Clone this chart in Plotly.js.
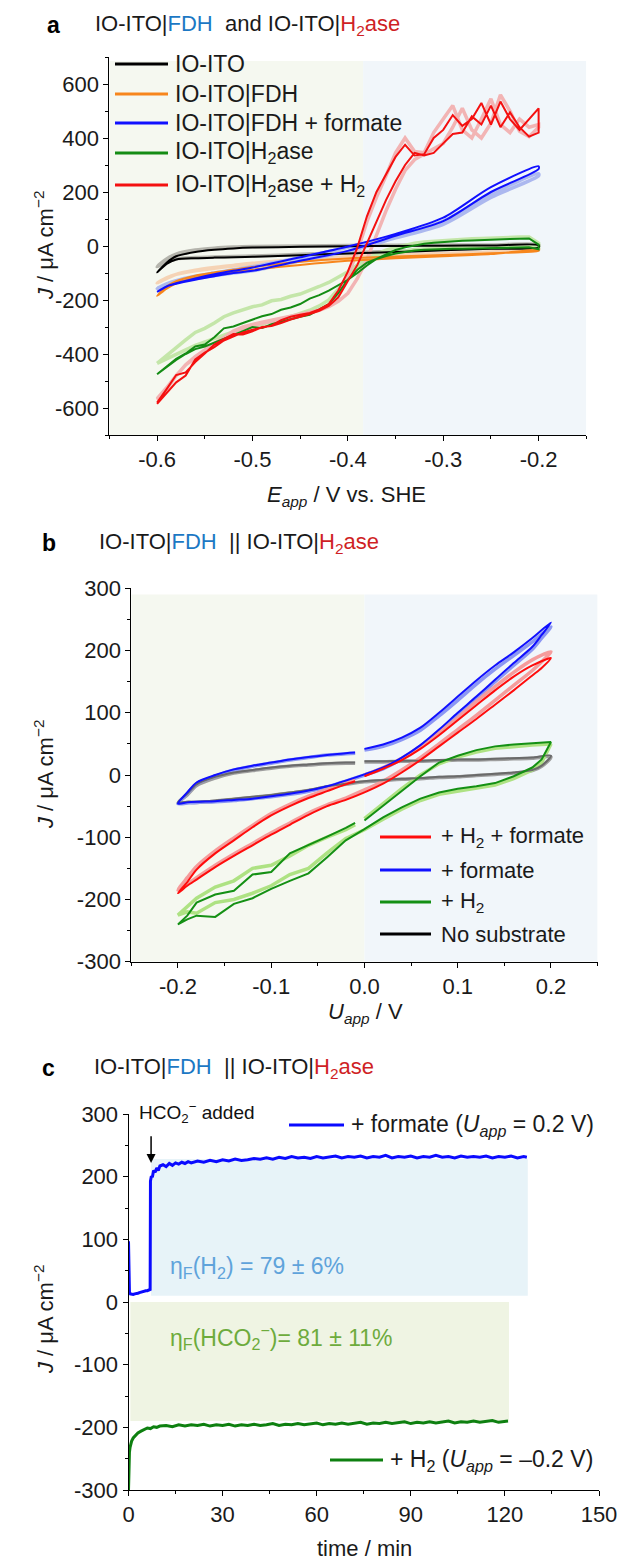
<!DOCTYPE html>
<html><head><meta charset="utf-8">
<script src="https://cdn.plot.ly/plotly-3.0.1.min.js"></script>
<style>html,body{margin:0;padding:0;background:#fff}#chart{width:619px;height:1560px}</style>
</head><body><div id="chart"></div>
<script>
// ---------- Panel a data ----------
const aVfine = [-0.6,-0.59,-0.58,-0.57,-0.56,-0.55,-0.54,-0.53,-0.52,-0.51,-0.5,-0.49,-0.48,-0.47,-0.46,-0.45,-0.44,-0.43,-0.42,-0.41,-0.4,-0.39,-0.38,-0.37,-0.36,-0.35,-0.34,-0.33,-0.32,-0.31,-0.3,-0.29,-0.28,-0.27,-0.26,-0.25,-0.24,-0.23,-0.22,-0.21,-0.2];
const aVcoarse = [-0.6,-0.59,-0.58,-0.56,-0.54,-0.52,-0.5,-0.45,-0.4,-0.35,-0.3,-0.25,-0.2];

const aItoDarkFwd = [-98,-62,-38,-22,-14,-9,-6,-3,-1,0,1,2,3];
const aItoDarkRev = [-5,-10,-16,-22,-28,-34,-40,-42,-43,-45,-50,-66,-98];
const aItoLightFwd = [-77,-48,-30,-15,-8,-4,-2,0,2,3,4,4,5];
const aItoLightRev = [-1,-7,-13,-19,-25,-31,-37,-39,-41,-43,-48,-60,-77];
const aFdhDarkFwd = [-185,-158,-138,-118,-105,-96,-88,-70,-55,-45,-38,-30,-15];
const aFdhDarkRev = [-18,-27,-33,-39,-46,-58,-78,-88,-98,-110,-130,-150,-185];
const aFdhLightFwd = [-137,-118,-105,-92,-82,-74,-68,-55,-44,-36,-30,-24,-10];
const aFdhLightRev = [-14,-22,-28,-33,-40,-50,-64,-72,-80,-90,-105,-120,-137];
const aFormDarkFwd = [-170,-150,-138,-120,-105,-92,-80,-42,-2,45,105,218,295];
const aFormDarkRev = [285,200,92,38,-18,-55,-92,-100,-112,-125,-140,-150,-170];
const aFormLightFwd = [-157,-140,-128,-112,-100,-88,-77,-42,-5,38,92,192,268];
const aFormLightRev = [260,180,80,30,-20,-55,-92,-100,-110,-120,-135,-145,-157];

const aH2aseDarkFwd = [-475,-445,-418,-398,-372,-365,-338,-305,-298,-285,-272,-260,-252,-236,-228,-215,-195,-182,-165,-145,-125,-100,-72,-48,-30,-15,-5,2,8,12,15,17,19,20,22,23,25,26,27,28,5];
const aH2aseDarkRev = [-12,-5,-6,-6,-7,-8,-8,-9,-10,-10,-11,-12,-14,-17,-22,-28,-37,-48,-62,-88,-125,-175,-215,-235,-255,-262,-272,-280,-290,-304,-300,-315,-330,-345,-358,-372,-382,-400,-422,-448,-475];
const aH2aseLightFwd = [-435,-405,-375,-348,-320,-305,-285,-262,-248,-236,-225,-218,-203,-198,-186,-178,-165,-150,-135,-115,-95,-70,-48,-30,-15,-5,3,10,15,18,21,23,25,27,28,30,31,32,33,33,10];
const aH2aseLightRev = [-6,-2,-3,-3,-4,-4,-5,-5,-6,-6,-7,-8,-10,-13,-18,-24,-32,-43,-57,-80,-112,-160,-200,-222,-238,-250,-262,-270,-278,-290,-292,-305,-318,-330,-345,-358,-368,-385,-400,-418,-435];
const aH2DarkFwd = [-585,-545,-505,-480,-420,-395,-375,-350,-335,-320,-310,-302,-295,-275,-262,-255,-248,-235,-215,-165,-95,-5,110,200,265,330,375,335,340,400,430,485,445,470,530,450,535,470,430,470,510];
const aH2DarkRev = [420,405,440,495,440,520,450,480,420,415,380,345,335,345,300,240,170,90,10,-70,-130,-190,-222,-240,-252,-262,-272,-285,-296,-300,-316,-328,-326,-345,-365,-398,-430,-468,-478,-530,-580];
const aH2LightFwd = [-570,-530,-480,-440,-415,-392,-370,-340,-315,-300,-290,-282,-275,-268,-262,-255,-248,-238,-220,-180,-110,-20,90,180,260,345,400,350,345,420,470,520,430,400,470,545,450,420,470,440,450];
const aH2LightRev = [440,405,425,500,560,455,400,430,510,440,380,360,340,320,280,210,130,40,-50,-120,-175,-205,-225,-238,-245,-255,-262,-270,-280,-285,-295,-305,-320,-340,-360,-385,-410,-440,-480,-525,-565];

const aLegendNames = ['IO-ITO','IO-ITO|FDH','IO-ITO|FDH + formate','IO-ITO|H<sub>2</sub>ase','IO-ITO|H<sub>2</sub>ase + H<sub>2</sub>'];
const aXTickVals = [-0.6,-0.5,-0.4,-0.3,-0.2];
const aXTickText = ['-0.6','-0.5','-0.4','-0.3','-0.2'];
const aYTickVals = [-600,-400,-200,0,200,400,600];
const aYTickText = ['-600','-400','-200','0','200','400','600'];

// ---------- Panel b data ----------
const bV = [0,0.02,0.04,0.06,0.08,0.1,0.12,0.14,0.16,0.18,0.2,0.19,0.18,0.16,0.14,0.12,0.1,0.08,0.06,0.04,0.02,0,-0.02,-0.04,-0.06,-0.08,-0.1,-0.12,-0.14,-0.16,-0.18,-0.19,-0.2,-0.19,-0.18,-0.16,-0.14,-0.12,-0.1,-0.08,-0.06,-0.04,-0.02,-0.01];
const bBlueDark = [42,49,60,76,100,126,152,176,197,220,245, 225,206,180,153,126,100,73,48,28,12,1,-9,-18,-25,-30,-34,-38,-40,-42,-43,-44,-46, -28,-12,0,9,15,20,25,29,32,35,36];
const bBlueLight = [40,46,57,72,95,120,146,170,192,214,238, 220,202,176,150,123,97,70,46,26,10,0,-10,-19,-26,-31,-35,-38,-41,-43,-44,-45,-46, -30,-14,-2,8,14,19,24,28,32,34,35];
const bGreyDark = [22,22,23,23,24,25,25,26,27,28,31, 15,8,4,2,0,-2,-3,-5,-6,-8,-10,-14,-18,-24,-28,-32,-35,-38,-41,-43,-43,-44, -30,-15,-3,4,8,12,15,17,19,20,20];
const bGreyLight = [21,21,22,22,23,24,24,25,26,27,29, 14,7,3,1,-1,-3,-4,-6,-7,-9,-11,-15,-19,-25,-29,-33,-36,-39,-42,-44,-44,-45, -32,-17,-5,3,7,11,14,16,18,19,19];
const bRedDark = [-2,10,24,42,64,88,112,136,158,176,188, 172,160,136,113,90,68,46,24,4,-14,-28,-40,-50,-64,-80,-96,-113,-130,-148,-168,-178,-190, -172,-152,-126,-105,-84,-65,-50,-37,-26,-15,-10];
const bRedLight = [0,12,27,46,68,92,118,142,165,185,198, 182,168,144,120,96,73,50,28,8,-10,-24,-37,-48,-61,-77,-93,-110,-127,-145,-165,-175,-185, -165,-147,-122,-101,-81,-62,-47,-34,-23,-13,-8];
const bGreenDark = [-73,-49,-25,-2,20,31,40,46,49,51,53, 25,12,-2,-13,-18,-22,-28,-38,-52,-68,-87,-105,-132,-158,-170,-183,-198,-207,-228,-226,-232,-240, -226,-205,-192,-186,-160,-156,-126,-113,-99,-85,-77];
const bGreenLight = [-70,-46,-22,0,18,29,37,43,46,48,50, 20,8,-6,-16,-21,-25,-31,-41,-55,-71,-88,-102,-125,-150,-160,-178,-190,-200,-205,-222,-220,-225, -212,-198,-180,-170,-150,-145,-130,-113,-100,-88,-80];
const bLegendNames = ['+ H<sub>2</sub> + formate','+ formate','+ H<sub>2</sub>','No substrate'];
const bXTickVals = [-0.2,-0.1,0,0.1,0.2];
const bXTickText = ['-0.2','-0.1','0.0','0.1','0.2'];
const bcYTickVals = [-300,-200,-100,0,100,200,300];
const bcYTickText = ['-300','-200','-100','0','100','200','300'];

// ---------- Panel c data ----------
const cBlueT = [0,0.1,0.3,0.6,1,1.5,2,2.5,3,3.5,4,4.5,5,5.5,6,6.5,6.9,7.0,7.1,7.3,7.6,8,8.5,9,9.5,10,11,12,13,14,15,16,17,18,19,20,22,24,26,28,30,32,34,36,38,40,42,44,46,48,50,52,54,56,58,60,62,64,66,68,70,72,74,76,78,80,82,84,86,88,90,92,94,96,98,100,102,104,106,108,110,112,114,116,118,120,122,124,126,127];
const cBlueJ = [97,40,16,13,12,12,13,13,14,15,16,17,17,18,18,19,20,193,197,201,199,210,207,214,210,217,219,216,221,218,222,220,223,221,224,222,225,223,226,224,227,225,228,226,227,229,228,230,228,231,229,232,230,231,229,232,230,231,233,230,232,231,233,230,232,231,234,230,232,231,233,230,232,231,234,231,232,230,233,231,232,231,233,230,232,231,233,230,232,231];
const cGreenT = [0,0.05,0.1,0.2,0.3,0.5,0.7,1,1.5,2,2.5,3,4,5,6,7,8,9,10,12,14,16,18,20,22,24,26,28,30,32,34,36,38,40,42,44,46,48,50,52,54,56,58,60,62,64,66,68,70,72,74,76,78,80,82,84,86,88,90,92,94,96,98,100,102,104,106,108,110,112,114,116,118,120,121];
const cGreenJ = [-300,-285,-265,-250,-240,-232,-226,-222,-217,-214,-211,-209,-206,-204,-201,-202,-199,-200,-198,-197,-199,-196,-198,-196,-197,-195,-198,-196,-197,-195,-198,-196,-197,-195,-197,-196,-194,-197,-195,-196,-194,-196,-195,-193,-196,-194,-195,-193,-195,-194,-192,-195,-193,-194,-192,-194,-193,-191,-194,-192,-193,-191,-193,-192,-190,-193,-191,-192,-190,-192,-191,-189,-192,-190,-190];
const cXTickVals = [0,30,60,90,120,150];
const cXTickText = ['0','30','60','90','120','150'];
const cLegendNames = ['+ formate (<i>U</i><sub><i>app</i></sub> = 0.2 V)','+ H<sub>2</sub> (<i>U</i><sub><i>app</i></sub> = \u20130.2 V)'];

// ---------- build ----------
const W = 619, H = 1560;
const PX = x => x / W, PY = y => 1 - y / H;
const loop = (v, f, r) => ({x: v.concat(v.slice().reverse()), y: f.concat(r)});
const FONT = 'Liberation Sans, Arial, Helvetica, sans-serif';

function tr(xa, ya, d, color, width, shape) {
  return {type:'scatter', mode:'lines', x:d.x, y:d.y, xaxis:xa, yaxis:ya, showlegend:false, hoverinfo:'skip',
    line:{color:color, width:width, shape:shape||'linear', smoothing:0.8}};
}

const C = {
  black:'#000000', grey:'#b5b5ad', orange:'#f7861c', peach:'#f5d3b5', blue:'#1010ff', lblue:'#acb8ef',
  green:'#148c14', lgreen:'#c4e6a9', red:'#f41010', pink:'#f2b4b4'
};

const traces = [
  tr('x','y', loop(aVcoarse, aItoLightFwd, aItoLightRev), C.grey, 3.5, 'spline'),
  tr('x','y', loop(aVcoarse, aFdhLightFwd, aFdhLightRev), C.peach, 3.5, 'spline'),
  tr('x','y', loop(aVcoarse, aFormLightFwd, aFormLightRev), C.lblue, 3.5, 'spline'),
  tr('x','y', loop(aVfine, aH2aseLightFwd, aH2aseLightRev), C.lgreen, 3.5),
  tr('x','y', loop(aVfine, aH2LightFwd, aH2LightRev), C.pink, 3.5),
  tr('x','y', loop(aVcoarse, aItoDarkFwd, aItoDarkRev), C.black, 2, 'spline'),
  tr('x','y', loop(aVcoarse, aFdhDarkFwd, aFdhDarkRev), C.orange, 2, 'spline'),
  tr('x','y', loop(aVcoarse, aFormDarkFwd, aFormDarkRev), C.blue, 2, 'spline'),
  tr('x','y', loop(aVfine, aH2aseDarkFwd, aH2aseDarkRev), C.green, 2),
  tr('x','y', loop(aVfine, aH2DarkFwd, aH2DarkRev), C.red, 2),
  tr('x2','y2', {x:bV, y:bGreyLight}, '#9e9e9e', 3.5, 'spline'),
  tr('x2','y2', {x:bV, y:bGreenLight}, '#aee283', 3.5),
  tr('x2','y2', {x:bV, y:bBlueLight}, '#8c97f3', 3.5, 'spline'),
  tr('x2','y2', {x:bV, y:bRedLight}, '#f59c9c', 3.5, 'spline'),
  tr('x2','y2', {x:bV, y:bGreyDark}, '#6a6a6a', 2, 'spline'),
  tr('x2','y2', {x:bV, y:bGreenDark}, '#149014', 2),
  tr('x2','y2', {x:bV, y:bBlueDark}, '#1010ff', 2, 'spline'),
  tr('x2','y2', {x:bV, y:bRedDark}, '#ff0c0c', 2, 'spline'),
  tr('x3','y3', {x:cBlueT, y:cBlueJ}, '#0a0aff', 3),
  tr('x3','y3', {x:cGreenT, y:cGreenJ}, '#0e8010', 3)
];

function axis(domain, range, anchor, vals, text, minorDtick) {
  return {domain:domain, range:range, anchor:anchor, showline:true, linecolor:'#000', linewidth:1,
    ticks:'outside', ticklen:5, tickwidth:1, tickcolor:'#000', showgrid:false, zeroline:false,
    tickmode:'array', tickvals:vals, ticktext:text, fixedrange:true,
    tickfont:{family:FONT, size:22, color:'#1a1a1a'},
    minor:{ticks:'outside', ticklen:3, tickwidth:1, tickcolor:'#000', dtick:minorDtick, tick0:0, showgrid:false}};
}

const layout = {
  width:W, height:H, margin:{l:0,r:0,t:0,b:0}, paper_bgcolor:'#ffffff', plot_bgcolor:'rgba(0,0,0,0)',
  showlegend:false, font:{family:FONT, size:22, color:'#1a1a1a'},
  xaxis:  axis([PX(109.4), PX(586.3)], [-0.65,-0.15], 'y',  aXTickVals, aXTickText, 0.05),
  yaxis:  axis([PY(435), PY(57)], [-700,700], 'x', aYTickVals, aYTickText, 100),
  xaxis2: axis([PX(131.3), PX(597.6)], [-0.25,0.25], 'y2', bXTickVals, bXTickText, 0.05),
  yaxis2: axis([PY(961.7), PY(588.3)], [-300,300], 'x2', bcYTickVals, bcYTickText, 50),
  xaxis3: axis([PX(128.5), PX(599)], [0,150], 'y3', cXTickVals, cXTickText, 15),
  yaxis3: axis([PY(1490), PY(1114)], [-300,300], 'x3', bcYTickVals, bcYTickText, 50),
  shapes:[], annotations:[]
};

const S = layout.shapes;
S.push({type:'rect', xref:'x', yref:'y', x0:-0.65, x1:-0.384, y0:-700, y1:685, fillcolor:'#f5f8f0', line:{width:0}, layer:'below'});
S.push({type:'rect', xref:'x', yref:'y', x0:-0.384, x1:-0.15, y0:-700, y1:685, fillcolor:'#f1f6fa', line:{width:0}, layer:'below'});
S.push({type:'rect', xref:'x2', yref:'y2', x0:-0.25, x1:0, y0:-300, y1:290, fillcolor:'#f5f8f0', line:{width:0}, layer:'below'});
S.push({type:'rect', xref:'x2', yref:'y2', x0:0, x1:0.25, y0:-300, y1:290, fillcolor:'#f1f6fa', line:{width:0}, layer:'below'});
S.push({type:'rect', xref:'x3', yref:'y3', x0:7.2, x1:127.3, y0:10, y1:228, fillcolor:'#e7f3f8', line:{width:0}, layer:'below'});
S.push({type:'rect', xref:'x3', yref:'y3', x0:0.6, x1:121.3, y0:-190, y1:0, fillcolor:'#eff4e3', line:{width:0}, layer:'below'});

const A = layout.annotations;
function txt(x, y, text, size, color, opts) {
  A.push(Object.assign({xref:'paper', yref:'paper', x:PX(x), y:PY(y), text:text, showarrow:false,
    xanchor:'left', yanchor:'middle', font:{family:FONT, size:size, color:color||'#1a1a1a'}}, opts||{}));
}
function legLine(x0, x1, y, color) {
  S.push({type:'line', xref:'paper', yref:'paper', x0:PX(x0), x1:PX(x1), y0:PY(y), y1:PY(y), line:{color:color, width:3}});
}

const aLegColors = ['#000000', C.orange, C.blue, C.green, C.red];
const aLegY = [64, 94, 123, 153, 185];
aLegendNames.forEach((n, i) => { legLine(115, 168, aLegY[i], aLegColors[i]); txt(173, aLegY[i], n, 23); });

const bLegColors = ['#ff0c0c', '#1010ff', '#149014', '#000000'];
const bLegY = [837, 870, 902, 934];
bLegendNames.forEach((n, i) => { legLine(380, 431, bLegY[i], bLegColors[i]); txt(439, bLegY[i], n, 22); });

legLine(289, 344, 1125, '#0a0aff'); txt(349, 1125, cLegendNames[0], 23);
legLine(330, 383, 1460, '#0e8010'); txt(388, 1460, cLegendNames[1], 23);

const FDH = '<span style="color:#1c78c4">FDH</span>';
const H2ASE = '<span style="color:#cf1f25">H<sub>2</sub>ase</span>';
txt(45, 25, '<b>a</b>', 23, '#000');
txt(93, 25, 'IO-ITO|' + FDH + '\u00a0 and IO-ITO|' + H2ASE, 22);
txt(40, 543, '<b>b</b>', 23, '#000');
txt(97, 543, 'IO-ITO|' + FDH + '\u00a0 || IO-ITO|' + H2ASE, 22);
txt(40, 1068, '<b>c</b>', 23, '#000');
txt(92, 1068, 'IO-ITO|' + FDH + '\u00a0 || IO-ITO|' + H2ASE, 22);

const JT = '<i>J</i> / \u03bcA cm<sup>\u22122</sup>';
txt(44, 246, JT, 22, '#1a1a1a', {xanchor:'center', textangle:-90});
txt(44, 775, JT, 22, '#1a1a1a', {xanchor:'center', textangle:-90});
txt(44, 1320, JT, 22, '#1a1a1a', {xanchor:'center', textangle:-90});
txt(347, 496, '<i>E</i><sub><i>app</i></sub> / V vs. SHE', 22, '#1a1a1a', {xanchor:'center'});
txt(365, 1013, '<i>U</i><sub><i>app</i></sub> / V', 22, '#1a1a1a', {xanchor:'center'});
txt(364, 1548, 'time / min', 22, '#1a1a1a', {xanchor:'center'});

txt(168, 1267, '\u03b7<sub>F</sub>(H<sub>2</sub>) = 79 \u00b1 6%', 23, '#5fa3db');
txt(168, 1337, '\u03b7<sub>F</sub>(HCO<sub>2</sub><sup>\u2212</sup>)= 81 \u00b1 11%', 23, '#6dab3c');
txt(137, 1112, 'HCO<sub>2</sub><sup>\u2212</sup> added', 19, '#111');
A.push({xref:'x3', yref:'y3', axref:'x3', ayref:'y3', x:7.2, y:222, ax:7.2, ay:278, text:' ', showarrow:true,
  arrowhead:2, arrowsize:1.2, arrowwidth:1.5, arrowcolor:'#000', font:{family:FONT, size:12}});

Plotly.newPlot('chart', traces, layout, {displayModeBar:false, responsive:false});
</script>
</body></html>
